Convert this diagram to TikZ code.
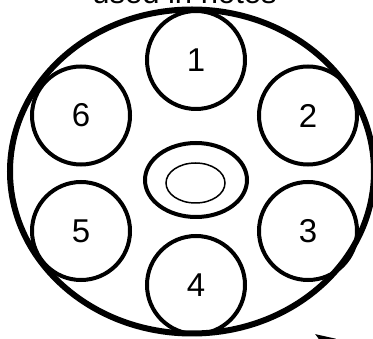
\documentclass[tikz,border=0pt]{standalone}
\usepackage{fontspec}
\setmainfont{Liberation Sans}
\usetikzlibrary{arrows.meta, shapes.geometric}

\begin{document}
\begin{tikzpicture}[x=1pt, y=-1pt,
  pin/.style={circle, draw, line width=4pt, minimum size=98pt, inner sep=0pt,
              font=\fontsize{33}{33}\selectfont},
  rim/.style={ellipse, draw, inner sep=0pt}]
  \useasboundingbox (0,0) rectangle (373,339);
  \clip (0,0) rectangle (373,339);
  % caption, cut off by the top edge
  \node[anchor=base, font=\fontsize{31}{31}\selectfont] (caption) at (184.5,4) {used in notes};
  % outer shell
  \node[rim, line width=6pt, minimum width=364pt, minimum height=324pt] (shell) at (192,171.5) {};
  % pins: (name, x, y)
  \foreach \nm/\x/\y in {1/196/60, 2/308/115.5, 3/308/231,
                         4/196/285, 5/81/231, 6/81/115.5}
    \node[pin] (pin\nm) at (\x,\y) {\nm};
  % centre key and its hole
  \node[rim, line width=4pt, minimum width=102pt, minimum height=74pt] (key) at (196,180) {};
  \node[rim, line width=1.5pt, minimum width=59pt, minimum height=40pt] (hole) at (195.5,183) {};
  % pointer coming in from the lower right
  \coordinate (tail) at (399,389);
  \coordinate (tip) at (315,334);
  \draw[line width=3pt, -{Triangle[length=20pt, width=14pt]}] (tail) -- (tip);
\end{tikzpicture}
\end{document}
